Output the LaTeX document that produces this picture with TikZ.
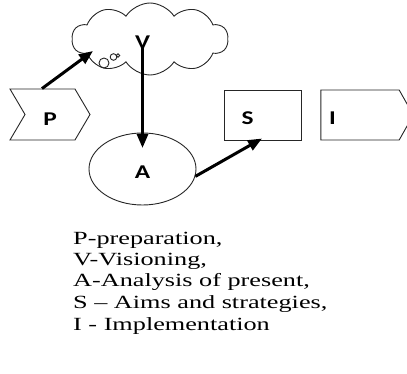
\documentclass[tikz,border=0pt]{standalone}
\usepackage{fontspec}
\setmainfont{Liberation Serif}
\newfontfamily\txtfont[FakeStretch=1.41]{Liberation Serif}
\newfontfamily\lblfont[FakeStretch=1.3]{Carlito}
\usetikzlibrary{shapes.symbols,shapes.geometric,arrows.meta}
\begin{document}
\begin{tikzpicture}[x=1pt,y=-1pt,
  shapeline/.style={draw=black!85,line width=0.9pt},
  lbl/.style={font=\lblfont\bfseries\fontsize{19.5}{19.5}\selectfont,inner sep=0pt},
  thickarrow/.style={line width=3pt,-{Triangle[length=14pt,width=11pt]}},
  legend/.style={font=\txtfont\fontsize{18.6}{21.5}\selectfont,anchor=base west,inner sep=0pt}]
\useasboundingbox (0,0) rectangle (407,374);
% cloud
\node[shapeline,cloud,cloud puffs=10,cloud puff arc=115,cloud ignores aspect,
  minimum width=156pt,minimum height=72pt,inner sep=0pt] (cloud) at (150,39) {};
\draw[shapeline] (104,63) circle (5);
\draw[shapeline] (113.5,57) circle (3.3);
\draw[shapeline] (118,55.5) circle (1.8);
% P chevron
\node[shapeline,signal,signal from=west,signal to=east,signal pointer angle=119,
  minimum width=80pt,minimum height=51pt,inner sep=0pt] (Pbox) at (50,114.5) {};
\node[lbl] (P) at (50,119) {P};
% V label
\node[lbl] (V) at (142.5,42) {V};
% A ellipse
\node[shapeline,ellipse,minimum width=107pt,minimum height=72pt,inner sep=0pt] (Abox) at (142.5,169) {};
\node[lbl] (A) at (142.5,172.5) {A};
% S box
\node[shapeline,rectangle,minimum width=77pt,minimum height=50pt,inner sep=0pt] (Sbox) at (262.5,115) {};
\node[lbl] (S) at (247.5,118) {S};
% I pentagon
\node[shapeline,signal,signal to=east,signal pointer angle=121,
  minimum width=92.5pt,minimum height=50pt,inner sep=0pt] (Ibox) at (360,115) {};
\node[lbl] (I) at (332.5,118) {I};
% arrows
\coordinate (ptail) at (93,51);
\coordinate (atip) at (142.5,148);
\coordinate (stip) at (262,138.5);
\draw[thickarrow] ([xshift=-8pt]Pbox.north) -- (ptail);
\draw[thickarrow] (142.5,45) -- (atip);
\draw[thickarrow] (Abox.-8) -- (stip);
% legend
\node[legend] (t1) at (73,244) {P-preparation,};
\node[legend] (t2) at (73,265.5) {V-Visioning,};
\node[legend] (t3) at (73,287) {A-Analysis of present,};
\node[legend] (t4) at (73,308.5) {S – Aims and strategies,};
\node[legend] (t5) at (73,330) {I - Implementation};
\end{tikzpicture}
\end{document}
